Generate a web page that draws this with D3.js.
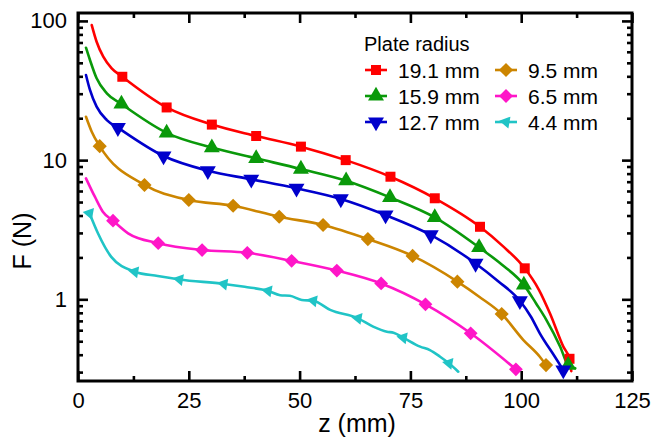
<!DOCTYPE html>
<html>
<head>
<meta charset="utf-8">
<script src="https://cdn.jsdelivr.net/npm/d3@7"></script>
<style>
  html, body { margin: 0; padding: 0; background: #fff; }
  svg { display: block; font-family: "Liberation Sans", Arial, Helvetica, sans-serif; }
</style>
</head>
<body>
<svg id="chart" width="653" height="441"></svg>
<script>
// ---- data: force F (N) versus gap z (mm), one set per plate radius ----
const plateRadii = ["19.1 mm", "15.9 mm", "12.7 mm", "9.5 mm", "6.5 mm", "4.4 mm"];

// marked samples [z, F]
const marks191 = [[10.0,39.7],[20.0,23.9],[30.2,18.0],[40.2,14.9],[50.3,12.5],[60.4,10.0],[70.5,7.6],[80.5,5.32],[90.7,3.32],[100.8,1.67],[110.9,0.374]];
const marks159 = [[9.8,25.3],[20.0,15.7],[30.2,12.3],[40.2,10.3],[50.3,8.63],[60.5,7.11],[70.4,5.40],[80.5,3.88],[90.5,2.36],[100.6,1.27],[110.6,0.337]];
const marks127 = [[9.0,17.1],[19.3,10.7],[29.3,8.39],[39.1,7.28],[49.3,6.27],[59.3,5.26],[69.4,4.03],[79.6,2.90],[89.7,1.81],[99.7,0.977],[109.5,0.31]];
const marks95  = [[4.9,12.6],[15.0,6.63],[25.0,5.17],[35.0,4.70],[45.4,3.92],[55.3,3.42],[65.4,2.71],[75.5,2.05],[85.6,1.34],[95.6,0.784],[105.6,0.337]];
const marks65  = [[7.9,3.67],[18.1,2.53],[28.0,2.26],[38.2,2.16],[48.2,1.89],[58.4,1.61],[68.4,1.30],[78.4,0.92],[88.6,0.570],[98.8,0.314]];
const marks44  = [[2.6,4.15],[12.8,1.58],[22.9,1.39],[32.9,1.29],[42.9,1.15],[53.1,0.977],[63.2,0.730],[73.4,0.53],[83.7,0.347]];

// further measured samples along each trace (unmarked)
const trace191 = [[3.1,93.4],[4.2,70.9],[5.7,55.3],[7.6,45.6],[95.8,2.42],[104.0,1.17],[106.5,0.79],[109.5,0.457],[111.3,0.305]];
const trace159 = [[1.8,64.2],[2.7,52.4],[4.2,38.7],[6.5,30.2],[95.6,1.78],[103.4,0.93],[105.7,0.71],[108.8,0.457],[112.2,0.32]];
const trace127 = [[1.8,40.9],[2.7,31.9],[4.2,24.2],[6.5,19.4],[94.8,1.35],[102.2,0.75],[104.2,0.57],[107.6,0.387]];
const trace95  = [[1.8,20.5],[3.1,16.0],[90.6,1.04],[100.5,0.51],[104.2,0.387]];
const trace65  = [[1.8,7.40],[3.8,5.46],[5.6,4.26],[11.3,2.98]];
const trace44  = [[4.5,2.98],[7.5,2.02],[18.0,1.47],[37.6,1.23],[45.6,1.07],[47.8,1.06],[50.5,0.99],[56.9,0.84],[66.6,0.636],[69.7,0.585],[71.2,0.576],[77.2,0.457],[79.4,0.432],[81.7,0.387],[85.8,0.302]];

// axis ticks
const xTicks = [0, 25, 50, 75, 100, 125];
const xMinorTicks = [12.5, 37.5, 62.5, 87.5, 112.5];
const yTicks = [1, 10, 100];
const yMinorTicks = [0.3,0.4,0.5,0.6,0.7,0.8,0.9,2,3,4,5,6,7,8,9,20,30,40,50,60,70,80,90];

// ---- styling ----
const colors = ["#ff0000", "#0a990a", "#0000cc", "#cc8500", "#ff16c8", "#20c4c6"];
const shapes = [
  { type: d3.symbolSquare,   size: 100, rot: 0   },
  { type: d3.symbolTriangle, size: 110, rot: 0   },
  { type: d3.symbolTriangle, size: 110, rot: 180 },
  { type: d3.symbolSquare,   size: 100, rot: 45  },
  { type: d3.symbolSquare,   size: 95,  rot: 45  },
  { type: d3.symbolTriangle, size: 62,  rot: -80 }
];

const allMarks = [marks191, marks159, marks127, marks95, marks65, marks44];
const allTraces = [trace191, trace159, trace127, trace95, trace65, trace44];
const series = plateRadii.map((name, i) => ({
  name,
  marks: allMarks[i],
  line: allMarks[i].concat(allTraces[i]).sort((a, b) => a[0] - b[0])
}));

const svg = d3.select("#chart");
const plotLeft = 78, plotRight = 632, plotTop = 13, plotBottom = 381;

const x = d3.scaleLinear().domain([0, 125]).range([plotLeft, plotRight]);
const y = d3.scaleLog().domain([0.259, 114]).range([plotBottom, plotTop]);

// ---- curves ----
const line = d3.line()
  .x(d => x(d[0]))
  .y(d => y(d[1]))
  .curve(d3.curveMonotoneX);

const plot = svg.append("g");
series.forEach((s, i) => {
  plot.append("path")
    .datum(s.line)
    .attr("d", line)
    .attr("fill", "none")
    .attr("stroke", colors[i])
    .attr("stroke-width", 2.6)
    .attr("stroke-linejoin", "round")
    .attr("stroke-linecap", "round");
});
series.forEach((s, i) => {
  const sym = d3.symbol().type(shapes[i].type).size(shapes[i].size);
  plot.selectAll(null)
    .data(s.marks)
    .join("path")
    .attr("d", sym)
    .attr("transform", d => `translate(${x(d[0])},${y(d[1])}) rotate(${shapes[i].rot})`)
    .attr("fill", colors[i]);
});

// ---- axes (ticks point inward on all four sides) ----
const tickStroke = 2.6;
function styleAxis(g) {
  g.select(".domain").remove();
  g.selectAll(".tick line").attr("stroke", "#000").attr("stroke-width", tickStroke);
  g.selectAll("text").attr("fill", "#000").attr("font-size", 22)
    .attr("font-family", "Liberation Sans, Arial, sans-serif");
}

// bottom
svg.append("g").attr("transform", `translate(0,${plotBottom})`)
  .call(d3.axisBottom(x).tickValues(xTicks).tickSize(-10).tickFormat(d3.format("d")))
  .call(styleAxis)
  .call(g => g.selectAll("text").attr("dy", null).attr("y", 27));
svg.append("g").attr("transform", `translate(0,${plotBottom})`)
  .call(d3.axisBottom(x).tickValues(xMinorTicks).tickSize(-5).tickFormat(""))
  .call(styleAxis);
// top
svg.append("g").attr("transform", `translate(0,${plotTop})`)
  .call(d3.axisTop(x).tickValues(xTicks).tickSize(-10).tickFormat(""))
  .call(styleAxis);
svg.append("g").attr("transform", `translate(0,${plotTop})`)
  .call(d3.axisTop(x).tickValues(xMinorTicks).tickSize(-5).tickFormat(""))
  .call(styleAxis);
// left
svg.append("g").attr("transform", `translate(${plotLeft},0)`)
  .call(d3.axisLeft(y).tickValues(yTicks).tickSize(-10).tickPadding(11).tickFormat(d3.format("d")))
  .call(styleAxis);
svg.append("g").attr("transform", `translate(${plotLeft},0)`)
  .call(d3.axisLeft(y).tickValues(yMinorTicks).tickSize(-5).tickFormat(""))
  .call(styleAxis);
// right
svg.append("g").attr("transform", `translate(${plotRight},0)`)
  .call(d3.axisRight(y).tickValues(yTicks).tickSize(-10).tickFormat(""))
  .call(styleAxis);
svg.append("g").attr("transform", `translate(${plotRight},0)`)
  .call(d3.axisRight(y).tickValues(yMinorTicks).tickSize(-5).tickFormat(""))
  .call(styleAxis);

// frame
svg.append("rect")
  .attr("x", plotLeft).attr("y", plotTop)
  .attr("width", plotRight - plotLeft).attr("height", plotBottom - plotTop)
  .attr("fill", "none").attr("stroke", "#000").attr("stroke-width", 3);

// axis titles
svg.append("text")
  .attr("x", (plotLeft + plotRight) / 2 + 2).attr("y", 432)
  .attr("text-anchor", "middle")
  .attr("font-size", 25)
  .text("z (mm)");
svg.append("text")
  .attr("transform", `translate(31,${(plotTop + plotBottom) / 2 + 44}) rotate(-90)`)
  .attr("text-anchor", "middle")
  .attr("font-size", 25)
  .text("F (N)");

// ---- legend ----
const legend = svg.append("g");
legend.append("text")
  .attr("x", 364).attr("y", 51)
  .attr("font-size", 20)
  .text("Plate radius");
const colX = [376, 506], textX = [398, 528], rowY = [70, 96, 122];
series.forEach((s, i) => {
  const col = Math.floor(i / 3), row = i % 3;
  const cx = colX[col], cy = rowY[row];
  const g = legend.append("g");
  g.append("line")
    .attr("x1", cx - 11).attr("x2", cx + 11)
    .attr("y1", cy).attr("y2", cy)
    .attr("stroke", colors[i]).attr("stroke-width", 2.6);
  g.append("path")
    .attr("d", d3.symbol().type(shapes[i].type).size(shapes[i].size)())
    .attr("transform", `translate(${cx},${cy}) rotate(${shapes[i].rot})`)
    .attr("fill", colors[i]);
  g.append("text")
    .attr("x", textX[col]).attr("y", cy + 7.5)
    .attr("font-size", 21)
    .text(s.name);
});
</script>
</body>
</html>
